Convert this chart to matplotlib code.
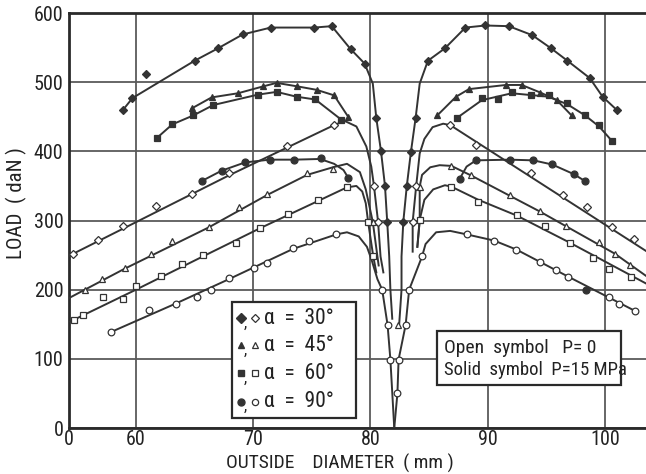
import matplotlib
matplotlib.use('Agg')
import matplotlib.pyplot as plt
from matplotlib.patches import Rectangle

plt.rcParams['font.family'] = ['Roboto Condensed', 'DejaVu Sans']
plt.rcParams['font.stretch'] = 'condensed'

# ---- data read off the figure: (x, y) of drawn curve, and measured points ----
# alpha = 30 deg, solid symbols (P = 15 MPa)
S30_L = ([58.9, 59.7, 65.0, 67.0, 69.1, 71.5, 75.2, 76.7, 78.3, 79.5, 80.2, 80.5, 80.9, 81.24, 81.43, 81.6, 81.7, 81.86],
         [460, 477, 531, 549, 569, 579, 579, 581, 548, 527, 498, 448, 400, 350, 298, 248, 200, 158])
S30_R = ([82.45, 82.65, 82.65, 82.8, 83.1, 83.45, 83.85, 84.2, 84.9, 86.35, 88.1, 89.8, 91.8, 93.8, 95.4, 96.8, 98.7, 99.8, 101.0],
         [150, 200, 248, 298, 350, 399, 448, 498, 531, 549, 579, 582, 581, 568, 549, 531, 506, 479, 460])
S30_P = ([58.9, 59.7, 60.9, 65.0, 67.0, 69.1, 71.5, 75.2, 76.7, 78.3, 79.5, 80.5, 80.9, 81.24, 81.43,
          82.8, 83.1, 83.45, 83.85, 84.9, 86.35, 88.1, 89.8, 91.8, 93.8, 95.4, 96.8, 98.7, 99.8, 101.0],
         [460, 477, 512, 531, 549, 569, 579, 579, 581, 548, 527, 448, 400, 350, 298,
          298, 350, 399, 448, 531, 549, 579, 582, 581, 568, 549, 531, 506, 479, 460])

# alpha = 45 deg, solid
S45_L = ([64.75, 66.45, 68.7, 70.86, 72.0, 73.75, 75.4, 76.9, 78.1],
         [462, 478, 484, 494, 499, 494, 489, 481, 450])
S45_R = ([85.7, 87.3, 88.4, 91.55, 92.9, 94.5, 95.9, 97.15],
         [452, 479, 490, 496, 496, 485, 474, 452])
S45_P = (S45_L[0] + S45_R[0], S45_L[1] + S45_R[1])

# alpha = 60 deg, solid
S60_L = ([61.76, 63.1, 64.9, 66.6, 70.4, 72.0, 73.7, 75.3, 77.5],
         [419, 439, 452, 467, 482, 486, 479, 475, 446])
S60_R = ([87.35, 89.5, 92.05, 95.2, 96.8, 98.3, 99.5, 100.6],
         [448, 474, 484, 479, 468, 452, 436, 415])
S60_P = ([61.76, 63.1, 64.9, 66.6, 70.4, 72.0, 73.7, 75.3, 77.5,
          87.35, 89.5, 90.9, 92.05, 93.7, 95.2, 96.8, 98.3, 99.5, 100.6],
         [419, 439, 452, 467, 482, 486, 479, 475, 446,
          448, 477, 476, 486, 481, 482, 470, 452, 438, 415])

# alpha = 90 deg, solid
S90_L = ([65.6, 67.3, 69.3, 71.4, 73.5, 75.7, 76.9, 77.7, 78.1],
         [357, 372, 384, 388, 388, 389, 382, 373, 362])
S90_R = ([87.6, 88.2, 89.0, 91.9, 93.9, 95.5, 97.35, 98.3],
         [360, 378, 387, 388, 387, 381, 367, 357])
S90_P = ([65.6, 67.3, 69.3, 71.4, 73.5, 75.75, 78.1, 87.6, 89.0, 91.9, 93.9, 95.5, 97.35, 98.3, 98.4],
         [357, 372, 385, 388, 387, 390, 362, 360, 387, 387, 387, 382, 367, 357, 199])

# alpha = 30 deg, open symbols (P = 0)
O30_L = ([54.3, 67.9, 76.9, 77.8, 78.8, 79.65, 80.07, 80.3, 80.65, 80.86, 81.1],
         [249, 365, 438, 444, 436, 407, 378, 350, 298, 248, 225])
O30_R = ([83.6, 83.6, 83.9, 84.2, 84.6, 85.3, 86.2, 86.8, 103.5],
         [255, 298, 350, 397, 418, 435, 440, 438, 256])
O30_P = ([54.6, 56.8, 58.9, 61.7, 64.75, 67.9, 72.9, 76.9, 80.3, 80.65,
          83.6, 83.9, 86.8, 89.0, 93.65, 96.4, 98.5, 100.6, 102.5],
         [252, 272, 292, 321, 338, 368, 408, 438, 350, 298,
          298, 350, 438, 409, 368, 337, 319, 291, 273])

# alpha = 45 deg, open
O45_L = ([54.3, 59.0, 66.2, 71.2, 74.6, 76.8, 78.0, 79.1, 79.6, 80.2, 80.5, 80.7],
         [188, 230, 290, 337, 366, 377, 382, 370, 345, 298, 260, 235])
O45_R = ([84.0, 84.2, 84.2, 84.4, 85.1, 85.9, 86.9, 88.6, 94.45, 100.85, 103.5],
         [262, 300, 349, 366, 377, 380, 379, 365, 313, 252, 220])
O45_P = ([55.65, 57.1, 59.06, 61.3, 63.1, 66.2, 68.8, 71.2, 74.55, 76.8, 80.2,
          82.37, 84.2, 86.9, 88.6, 91.9, 94.45, 96.7, 99.5, 100.85, 102.1],
         [200, 215, 231, 251, 270, 290, 319, 338, 369, 375, 298,
          149, 349, 379, 366, 337, 314, 292, 269, 252, 235])

# alpha = 60 deg, open
O60_L = ([54.4, 60.0, 65.7, 70.6, 75.5, 78.0, 78.8, 79.3, 79.6, 79.8, 80.24, 80.5],
         [154, 200, 248, 289, 328, 348, 350, 342, 325, 298, 248, 225])
O60_R = ([84.0, 84.2, 84.6, 85.35, 86.35, 86.9, 89.2, 92.5, 97.0, 103.5],
         [262, 301, 330, 345, 351, 349, 330, 307, 268, 209])
O60_P = ([54.7, 55.5, 57.2, 58.9, 60.0, 62.1, 63.9, 65.7, 68.5, 70.6, 73.0, 75.5, 78.0, 79.8, 80.24,
          84.2, 86.9, 89.2, 92.5, 94.9, 97.0, 99.0, 100.35, 102.2],
         [156, 163, 189, 186, 205, 220, 237, 250, 267, 289, 309, 329, 348, 298, 248,
          301, 349, 327, 308, 292, 268, 246, 230, 218])

# alpha = 90 deg, open
O90_L = ([57.9, 63.4, 67.9, 73.4, 77.1, 78.0, 79.0, 79.7, 80.1, 80.6, 81.0, 81.46, 81.7, 82.03],
         [139, 180, 215, 259, 280, 283, 277, 262, 243, 215, 200, 149, 99, 0])
O90_R = ([82.03, 82.3, 82.4, 83.0, 83.3, 84.4, 84.7, 85.6, 86.8, 88.2, 90.55, 92.45, 96.85, 102.6],
         [0, 50, 99, 149, 200, 248, 266, 283, 285, 280, 271, 258, 219, 169])
O90_P = ([57.9, 61.1, 63.4, 65.2, 66.4, 67.9, 70.06, 71.15, 73.4, 74.8, 77.1, 81.0, 81.46, 81.7,
          82.3, 82.4, 83.0, 83.3, 84.4, 88.2, 90.55, 92.45, 94.5, 95.85, 96.85, 100.35, 101.2, 102.6],
         [139, 171, 180, 190, 200, 217, 231, 239, 260, 270, 280, 200, 149, 99,
          50, 99, 149, 200, 248, 280, 271, 258, 240, 228, 219, 190, 179, 169])

X_TICKS = [54.29, 60, 70, 80, 90, 100]
X_LABELS = ['0', '60', '70', '80', '90', '100']
Y_TICKS = [0, 100, 200, 300, 400, 500, 600]

INK = '#333333'
GRID = '#5a5a5a'
TXT = '#222222'

fig = plt.figure(figsize=(6.46, 4.74), dpi=100)
ax = fig.add_axes([0.1068, 0.097, 0.8932, 0.8755])


def draw(line_l, line_r, pts, marker, filled, ms):
    for xs, ys in (line_l, line_r):
        ax.plot(xs, ys, '-', color=INK, lw=1.4, zorder=3)
    ax.plot(pts[0], pts[1], ls='none', marker=marker, ms=ms,
            mfc=INK if filled else 'white', mec=INK, mew=0.9, zorder=4)


draw(S30_L, S30_R, S30_P, 'D', True, 4.4)
draw(S45_L, S45_R, S45_P, '^', True, 5.0)
draw(S60_L, S60_R, S60_P, 's', True, 4.6)
draw(S90_L, S90_R, S90_P, 'o', True, 5.0)
draw(O30_L, O30_R, O30_P, 'D', False, 4.0)
draw(O45_L, O45_R, O45_P, '^', False, 4.6)
draw(O60_L, O60_R, O60_P, 's', False, 4.4)
draw(O90_L, O90_R, O90_P, 'o', False, 4.8)

ax.set_xlim(54.29, 103.5)
ax.set_ylim(0, 600)
ax.set_xticks(X_TICKS)
ax.set_xticklabels(X_LABELS)
ax.set_yticks(Y_TICKS)
ax.grid(True, color=GRID, lw=1.3)
ax.set_axisbelow(True)
ax.tick_params(length=0, labelsize=14.5, colors=TXT)
ax.tick_params(axis='y', pad=4)
ax.tick_params(axis='x', pad=1.5)
for side in ('left', 'bottom', 'top'):
    ax.spines[side].set_linewidth(2.0)
    ax.spines[side].set_color('#2a2a2a')
ax.spines['right'].set_visible(False)

fig.text(340 / 646, 1 - 463 / 474, 'OUTSIDE    DIAMETER  ( mm )', ha='center', va='center',
         fontsize=14, color=TXT)
fig.text(16 / 646, 1 - 203 / 474, 'LOAD  ( daN )', ha='center', va='center',
         rotation=90, fontsize=15, color=TXT)

# legend box for the angles
box = dict(transform=ax.transAxes, fill=True, facecolor='white', edgecolor='#2a2a2a', lw=1.6, zorder=6)
ax.add_patch(Rectangle((0.2825, 0.0241), 0.2149, 0.2795, **box))
rows = [0.2643, 0.200, 0.1325, 0.0634]
marks = ['D', '^', 's', 'o']
angles = ['30°', '45°', '60°', '90°']
for yy, mk, ang in zip(rows, marks, angles):
    ax.plot([0.2975], [yy], marker=mk, ms=5, mfc=INK, mec=INK, transform=ax.transAxes,
            clip_on=False, zorder=7)
    ax.text(0.3055, yy - 0.012, ',', transform=ax.transAxes, fontsize=12, ha='center', va='center',
            color=TXT, zorder=7)
    ax.plot([0.3215], [yy], marker=mk, ms=4.5, mfc='white', mec=INK, mew=0.9,
            transform=ax.transAxes, clip_on=False, zorder=7)
    ax.text(0.338, yy, 'α  =  ' + ang, transform=ax.transAxes, fontsize=15.5, ha='left',
            va='center', color=TXT, zorder=7)

# legend box for the pressure
ax.add_patch(Rectangle((0.6378, 0.1036), 0.3189, 0.1301, **box))
ax.text(0.650, 0.1928, 'Open  symbol   P= 0', transform=ax.transAxes, fontsize=14,
        ha='left', va='center', color=TXT, zorder=7)
ax.text(0.650, 0.1398, 'Solid  symbol  P=15 MPa', transform=ax.transAxes, fontsize=13.5,
        ha='left', va='center', color=TXT, zorder=7)

fig.savefig('out.png', dpi=100)
